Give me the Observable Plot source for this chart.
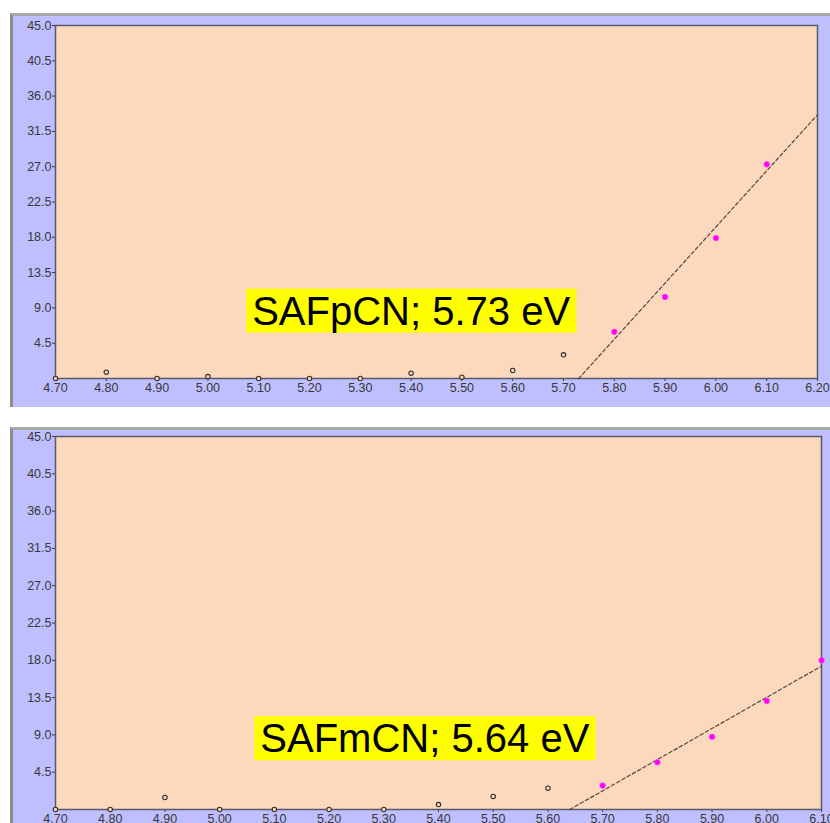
<!DOCTYPE html>
<html>
<head>
<meta charset="utf-8">
<script src="https://cdn.jsdelivr.net/npm/d3@7"></script>
<script src="https://cdn.jsdelivr.net/npm/@observablehq/plot@0.6"></script>
<style>
  html, body { margin: 0; padding: 0; background: #ffffff; }
  body { position: relative; width: 830px; height: 823px; overflow: hidden; }
  .panel {
    position: absolute; left: 10px; width: 830px; box-sizing: border-box;
    background: #bfbfff; border-top: 3px solid #a9a9a9; border-left: 3px solid #8c8c8c;
  }
  .chart { position: absolute; left: 0; }
</style>
</head>
<body>
<div class="panel" style="top:13px;height:394px"></div>
<div class="panel" style="top:427px;height:420px"></div>
<div id="top" class="chart" style="top:0px"></div>
<div id="bottom" class="chart" style="top:427px"></div>
<script>
// Photon energy (eV) vs. photoelectron yield, two samples.
// Shared y ticks
const yTicks = [4.5, 9.0, 13.5, 18.0, 22.5, 27.0, 31.5, 36.0, 40.5, 45.0];

// SAFpCN
const topName = "SAFpCN";
const topTicks = [4.70, 4.80, 4.90, 5.00, 5.10, 5.20, 5.30, 5.40, 5.50, 5.60, 5.70, 5.80, 5.90, 6.00, 6.10, 6.20];
const topBaseE = [4.70, 4.80, 4.90, 5.00, 5.10, 5.20, 5.30, 5.40, 5.50, 5.60, 5.70];
const topBaseY = [0.0, 0.8, 0.0, 0.25, 0.0, 0.0, 0.0, 0.68, 0.17, 1.02, 3.02];
const topFitE = [5.80, 5.90, 6.00, 6.10];
const topFitY = [5.95, 10.4, 17.9, 27.3];
const topOnset = 5.73;

// SAFmCN
const botName = "SAFmCN";
const botTicks = [4.70, 4.80, 4.90, 5.00, 5.10, 5.20, 5.30, 5.40, 5.50, 5.60, 5.70, 5.80, 5.90, 6.00, 6.10];
const botBaseE = [4.70, 4.80, 4.90, 5.00, 5.10, 5.20, 5.30, 5.40, 5.50, 5.60];
const botBaseY = [0.0, 0.0, 1.45, 0.0, 0.0, 0.0, 0.0, 0.6, 1.57, 2.57];
const botFitE = [5.70, 5.80, 5.90, 6.00, 6.10];
const botFitY = [2.9, 5.7, 8.77, 13.1, 18.0];
const botOnset = 5.64;

const peach = "#fcd8bc";
const font = "'Liberation Sans', Arial, sans-serif";

// least-squares slope of the rising points
function fitSlope(xs, ys) {
  const mx = d3.mean(xs), my = d3.mean(ys);
  const num = d3.sum(xs, (x, i) => (x - mx) * (ys[i] - my));
  const den = d3.sum(xs, x => (x - mx) ** 2);
  return num / den;
}

function onsetText(name, onset) {
  return `${name}; ${onset.toFixed(2)} eV`;
}

function panel({name, ticks, baseE, baseY, fitE, fitY, onset, height, marginTop, marginBottom, marginRight, labelAt}) {
  const xMax = ticks[ticks.length - 1];
  const base = baseE.map((e, i) => ({e, y: baseY[i]}));
  const fit = fitE.map((e, i) => ({e, y: fitY[i]}));
  const slope = fitSlope(fitE, fitY);
  const onsetLine = [onset, xMax].map(e => ({e, y: slope * (e - onset)}));
  const label = [{e: labelAt[0], y: labelAt[1], text: onsetText(name, onset)}];
  return Plot.plot({
    width: 830, height,
    marginLeft: 55, marginRight, marginTop, marginBottom,
    style: {background: "transparent", color: "#383838", fontFamily: font, fontSize: "12.5px", overflow: "visible"},
    x: {domain: [4.7, xMax], ticks, tickFormat: d => d.toFixed(2), tickSize: 3, tickPadding: 2, label: null},
    y: {domain: [0, 45], ticks: yTicks, tickFormat: d => d.toFixed(1), tickSize: 3, tickPadding: 1, label: null},
    marks: [
      Plot.frame({fill: peach, stroke: "#565a68", strokeWidth: 1.5}),
      Plot.line(onsetLine, {x: "e", y: "y", stroke: "#4f4a46", strokeWidth: 1.2, strokeDasharray: "3.5,2.5"}),
      Plot.dot(base, {x: "e", y: "y", r: 2.2, stroke: "#2e2e2e", strokeWidth: 1.1, fill: peach}),
      Plot.dot(fit, {x: "e", y: "y", r: 2.8, fill: "#ff00ff", stroke: "#ff44ff", strokeWidth: 0.6}),
      Plot.text(label, {x: "e", y: "y", text: "text", fontSize: 40, fill: "#000000", fontFamily: font})
    ]
  });
}

// yellow highlight behind the onset label
function highlight(svg, str) {
  svg.querySelectorAll("text").forEach(t => {
    if (t.textContent !== str) return;
    const b = t.getBBox();
    const r = document.createElementNS("http://www.w3.org/2000/svg", "rect");
    r.setAttribute("x", b.x - 6);
    r.setAttribute("y", b.y);
    r.setAttribute("width", b.width + 12);
    r.setAttribute("height", b.height);
    r.setAttribute("fill", "#ffff00");
    const tr = t.getAttribute("transform");
    if (tr) r.setAttribute("transform", tr);
    t.parentNode.insertBefore(r, t);
  });
}

const topSvg = panel({name: topName, ticks: topTicks, baseE: topBaseE, baseY: topBaseY, fitE: topFitE, fitY: topFitY,
  onset: topOnset, height: 407, marginTop: 25, marginBottom: 29, marginRight: 13, labelAt: [5.40, 8.5]});
document.getElementById("top").append(topSvg);
highlight(topSvg, onsetText(topName, topOnset));

const botSvg = panel({name: botName, ticks: botTicks, baseE: botBaseE, baseY: botBaseY, fitE: botFitE, fitY: botFitY,
  onset: botOnset, height: 423, marginTop: 9, marginBottom: 41, marginRight: 9, labelAt: [5.375, 8.45]});
document.getElementById("bottom").append(botSvg);
highlight(botSvg, onsetText(botName, botOnset));
</script>
</body>
</html>
